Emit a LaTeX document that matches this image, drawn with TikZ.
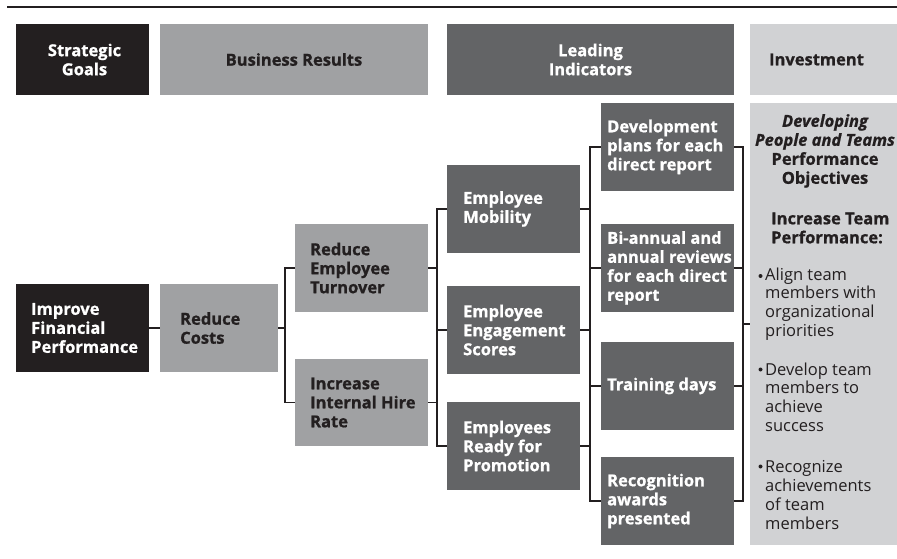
\documentclass[tikz,border=0pt]{standalone}
\usepackage{fontspec}
\setmainfont{Open Sans}[BoldFeatures={FakeBold=0.9}, BoldItalicFeatures={FakeBold=0.9}]
\definecolor{ink}{HTML}{231F20}
\definecolor{midgray}{HTML}{A0A1A3}
\definecolor{slate}{HTML}{636466}
\definecolor{pale}{HTML}{D1D2D4}
\begin{document}
\begin{tikzpicture}[x=1pt,y=-1pt,
  box/.style={anchor=north west, inner sep=0pt, outer sep=0pt, draw=none},
  blackbox/.style={box, fill=ink},
  graybox/.style={box, fill=midgray},
  slatebox/.style={box, fill=slate},
  palebox/.style={box, fill=pale},
  txt/.style={inner sep=0pt, font=\bfseries\fontsize{16.5}{19}\selectfont},
  lbl/.style={txt, anchor=west, align=left},
  wlbl/.style={lbl, text=white},
  klbl/.style={lbl, text=ink},
  head/.style={txt, align=center},
  body/.style={inner sep=0pt, anchor=west, align=left, text=ink, font=\fontsize{16.5}{18.7}\selectfont},
  dot/.style={circle, fill=ink, inner sep=0pt, minimum size=4pt},
  link/.style={draw=ink, line width=1.1pt}
]
\useasboundingbox (0,0) rectangle (897,559);

% top rule
\coordinate (ruleL) at (7,7);
\coordinate (ruleR) at (897,7);
\draw[ink, line width=1.6pt] (ruleL) -- (ruleR);

% column headers
\node[blackbox, minimum width=133pt, minimum height=71pt] (hsg) at (16,24) {};
\node[graybox,  minimum width=268pt, minimum height=71pt] (hbr) at (160,24) {};
\node[slatebox, minimum width=287pt, minimum height=71pt] (hli) at (447,24) {};
\node[palebox,  minimum width=147pt, minimum height=71pt] (hinv) at (750,24) {};
\node[head, text=white] (hsgt) at ([xshift=2pt]hsg.center) {Strategic\\Goals};
\node[head, text=ink] (hbrt) at (hbr.center) {Business Results};
\node[head, text=white] (hlit) at (hli.center) {Leading\\Indicators};
\node[head, text=ink] (hinvt) at ([xshift=-7pt]hinv.center) {Investment};

% strategic goal and business results
\node[blackbox, minimum width=133pt, minimum height=88pt] (ifp) at (16,284) {};
\node[graybox,  minimum width=118pt, minimum height=88pt] (rc)  at (160,284) {};
\node[graybox,  minimum width=133pt, minimum height=88pt] (ret) at (295,224) {};
\node[graybox,  minimum width=133pt, minimum height=87pt] (iih) at (295,359) {};
\node[wlbl] (ifpt) at ([xshift=15pt]ifp.west) {Improve\\Financial\\Performance};
\node[klbl] (rct)  at ([xshift=20pt]rc.west)  {Reduce\\Costs};
\node[klbl] (rett) at ([xshift=15pt]ret.west) {Reduce\\Employee\\Turnover};
\node[klbl] (iiht) at ([xshift=15pt]iih.west) {Increase\\Internal Hire\\Rate};

% leading indicators
\node[slatebox, minimum width=133pt, minimum height=88pt] (em)  at (447,165) {};
\node[slatebox, minimum width=133pt, minimum height=88pt] (ees) at (447,286) {};
\node[slatebox, minimum width=133pt, minimum height=88pt] (erp) at (447,402) {};
\node[wlbl] (emt)  at ([xshift=16pt]em.west)  {Employee\\Mobility};
\node[wlbl] (eest) at ([xshift=16pt]ees.west) {Employee\\Engagement\\Scores};
\node[wlbl] (erpt) at ([xshift=16pt]erp.west) {Employees\\Ready for\\Promotion};

\node[slatebox, minimum width=133pt, minimum height=88pt] (dp) at (601,103) {};
\node[slatebox, minimum width=133pt, minimum height=88pt] (br) at (601,224) {};
\node[slatebox, minimum width=133pt, minimum height=88pt] (td) at (601,342) {};
\node[slatebox, minimum width=133pt, minimum height=88pt] (ra) at (601,457) {};
\node[wlbl] (dpt) at ([xshift=6pt]dp.west) {Development\\plans for each\\direct report};
\node[wlbl] (brt) at ([xshift=6pt]br.west) {Bi-annual and\\annual reviews\\for each direct\\report};
\node[wlbl] (tdt) at ([xshift=6pt]td.west) {Training days};
\node[wlbl] (rat) at ([xshift=6pt]ra.west) {Recognition\\awards\\presented};

% investment panel
\node[palebox, minimum width=147pt, minimum height=442pt] (inv) at (750,103) {};
\node[head, text=ink] (invtitle) at (825,151) {{\itshape Developing}\\{\itshape People and Teams}\\Performance\\Objectives};
\node[lbl, text=ink] (invgoal) at (771,228) {Increase Team\\Performance:};
\node[dot] (d1) at (760.5,276) {};
\node[dot] (d2) at (760.5,369.5) {};
\node[dot] (d3) at (760.5,466.5) {};
\node[body] (b1) at (765,304) {Align team\\members with\\organizational\\priorities};
\node[body] (b2) at (765,397) {Develop team\\members to\\achieve\\success};
\node[body] (b3) at (765,495) {Recognize\\achievements\\of team\\members};

% connectors
\coordinate (j1) at (285,328);
\coordinate (j4) at (743,324);
\draw[link] (ifp.east) -- (rc.west);
\draw[link] (rc.east) -- (j1);
\draw[link] (ret.west) -- ++(-10pt,0) |- (iih.west);

\draw[link] (ret.east) -- ++(9pt,0);
\draw[link] (iih.east) -- ++(9pt,0);
\draw[link] (em.west) -- ++(-10pt,0) |- (erp.west);
\draw[link] (ees.west) -- ++(-10pt,0);

\draw[link] (em.east) -- ++(10pt,0);
\draw[link] (ees.east) -- ++(10pt,0);
\draw[link] (erp.east) -- ++(10pt,0);
\draw[link] (dp.west) -- ++(-11pt,0) |- (ra.west);
\draw[link] (br.west) -- ++(-11pt,0);
\draw[link] (td.west) -- ++(-11pt,0);

\draw[link] (dp.east) -- ++(9pt,0) |- (ra.east);
\draw[link] (br.east) -- ++(9pt,0);
\draw[link] (td.east) -- ++(9pt,0);
\draw[link] (j4) -- (inv.west);
\end{tikzpicture}
\end{document}
